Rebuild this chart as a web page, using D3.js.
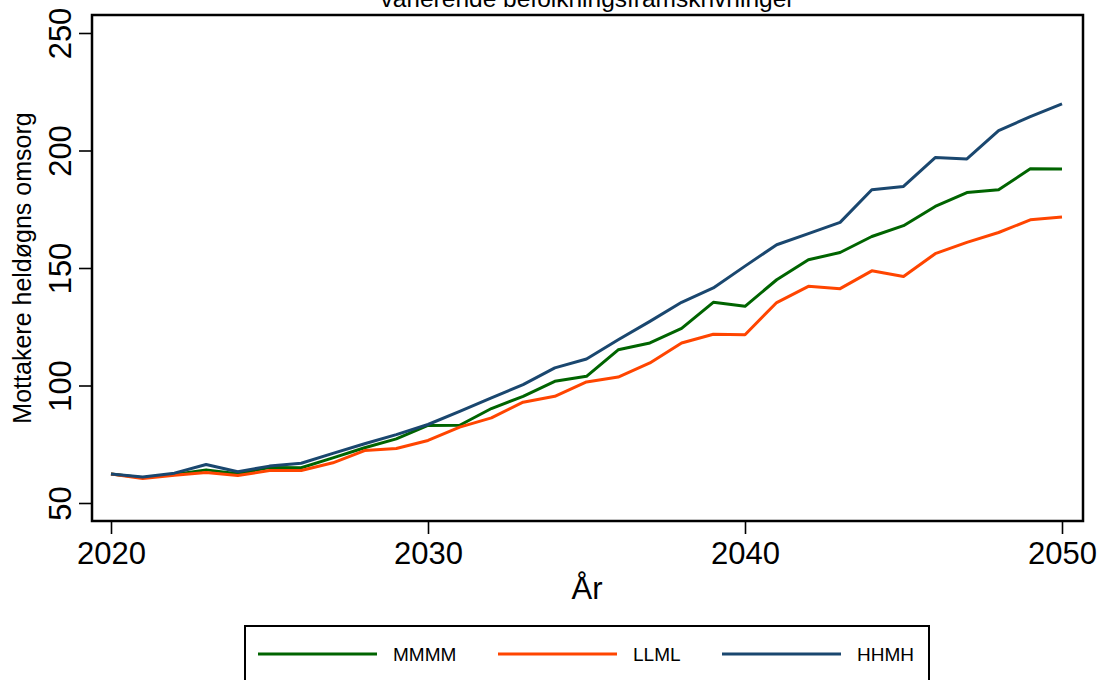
<!DOCTYPE html>
<html>
<head>
<meta charset="utf-8">
<script src="https://cdn.jsdelivr.net/npm/d3@7"></script>
<style>
  html, body { margin: 0; padding: 0; background: #fff; }
  svg { display: block; font-family: "Liberation Sans", Arial, Helvetica, sans-serif; }
</style>
</head>
<body>
<svg id="chart" width="1101" height="680"></svg>
<script>
const years = d3.range(2020, 2051);
const seriesNames = ["MMMM", "LLML", "HHMH"];
const seriesColors = ["#006400", "#ff4500", "#1a476f"];
const MMMM = [62.3, 60.8, 62.1, 64.1, 62.5, 65.1, 65.0, 69.2, 73.5, 77.3, 83.0, 83.1, 90.2, 95.4, 101.8, 103.9, 115.2, 118.1, 124.3, 135.4, 133.7, 145.0, 153.5, 156.6, 163.4, 168.0, 176.2, 182.1, 183.3, 192.2, 192.1];
const LLML = [62.3, 60.4, 61.8, 63.0, 61.7, 63.8, 63.8, 67.1, 72.3, 73.2, 76.6, 82.3, 86.2, 92.9, 95.4, 101.5, 103.6, 109.6, 118.1, 121.8, 121.6, 135.3, 142.2, 141.2, 148.8, 146.4, 156.1, 160.9, 165.1, 170.5, 171.7];
const HHMH = [62.3, 61.1, 62.7, 66.4, 63.3, 65.7, 66.9, 71.1, 75.2, 79.1, 83.4, 89.0, 94.7, 100.4, 107.5, 111.3, 119.5, 127.3, 135.4, 141.5, 150.8, 159.9, 164.6, 169.4, 183.3, 184.7, 197.0, 196.4, 208.5, 214.4, 219.8];
const xTicks = [2020, 2030, 2040, 2050];
const yTicks = [50, 100, 150, 200, 250];
const titleText = "varierende befolkningsframskrivninger";
const xTitle = "År";
const yTitle = "Mottakere heldøgns omsorg";

const seriesValues = [MMMM, LLML, HHMH];

const svg = d3.select("#chart");
const plot = { left: 92, right: 1083, top: 15, bottom: 521 };

const x = d3.scaleLinear().domain([2020, 2050]).range([111, 1062]);
const y = d3.scaleLinear().domain([50, 250]).range([503, 33]);

// title (partially clipped at top)
svg.append("text")
  .attr("x", (plot.left + plot.right) / 2)
  .attr("y", 7)
  .attr("text-anchor", "middle")
  .attr("font-size", 24.5)
  .attr("fill", "#000")
  .text(titleText);

// lines
const line = d3.line().x((d, i) => x(years[i])).y(d => y(d));
seriesValues.forEach((vals, k) => {
  svg.append("path")
    .datum(vals)
    .attr("d", line)
    .attr("fill", "none")
    .attr("stroke", seriesColors[k])
    .attr("stroke-width", 3)
    .attr("stroke-linejoin", "round");
});

// frame
svg.append("rect")
  .attr("x", plot.left).attr("y", plot.top)
  .attr("width", plot.right - plot.left)
  .attr("height", plot.bottom - plot.top)
  .attr("fill", "none").attr("stroke", "#000").attr("stroke-width", 2.5);

// x axis
const gx = svg.append("g")
  .attr("transform", `translate(0,${plot.bottom})`)
  .call(d3.axisBottom(x).tickValues(xTicks).tickFormat(d3.format("d")).tickSize(13).tickSizeOuter(0));
gx.select(".domain").remove();
gx.selectAll(".tick line").attr("stroke", "#000").attr("stroke-width", 1.6);
gx.selectAll(".tick text")
  .attr("font-family", "Liberation Sans, Arial, sans-serif")
  .attr("font-size", 31).attr("fill", "#000")
  .attr("y", 43).attr("dy", 0);

// y axis
const gy = svg.append("g")
  .attr("transform", `translate(${plot.left},0)`)
  .call(d3.axisLeft(y).tickValues(yTicks).tickFormat(d3.format("d")).tickSize(13).tickSizeOuter(0));
gy.select(".domain").remove();
gy.selectAll(".tick line").attr("stroke", "#000").attr("stroke-width", 1.6);
gy.selectAll(".tick text")
  .attr("font-family", "Liberation Sans, Arial, sans-serif")
  .attr("font-size", 31).attr("fill", "#000")
  .attr("x", 0).attr("y", 0).attr("dy", 0)
  .attr("text-anchor", "middle")
  .attr("transform", "translate(-21,0) rotate(-90)");

// axis titles
svg.append("text")
  .attr("x", (plot.left + plot.right) / 2 - 0.5)
  .attr("y", 599)
  .attr("text-anchor", "middle")
  .attr("font-size", 31)
  .text(xTitle);

svg.append("text")
  .attr("transform", `translate(31,${(plot.top + plot.bottom) / 2}) rotate(-90)`)
  .attr("text-anchor", "middle")
  .attr("font-size", 25)
  .text(yTitle);

// legend
const legend = svg.append("g");
legend.append("rect")
  .attr("x", 245).attr("y", 626)
  .attr("width", 684).attr("height", 80)
  .attr("fill", "#fff").attr("stroke", "#000").attr("stroke-width", 2);
const itemX = [258, 498, 722];
seriesNames.forEach((name, k) => {
  legend.append("line")
    .attr("x1", itemX[k]).attr("x2", itemX[k] + 119)
    .attr("y1", 654).attr("y2", 654)
    .attr("stroke", seriesColors[k]).attr("stroke-width", 3);
  legend.append("text")
    .attr("x", itemX[k] + 135).attr("y", 661)
    .attr("font-size", 19)
    .text(name);
});
</script>
</body>
</html>
